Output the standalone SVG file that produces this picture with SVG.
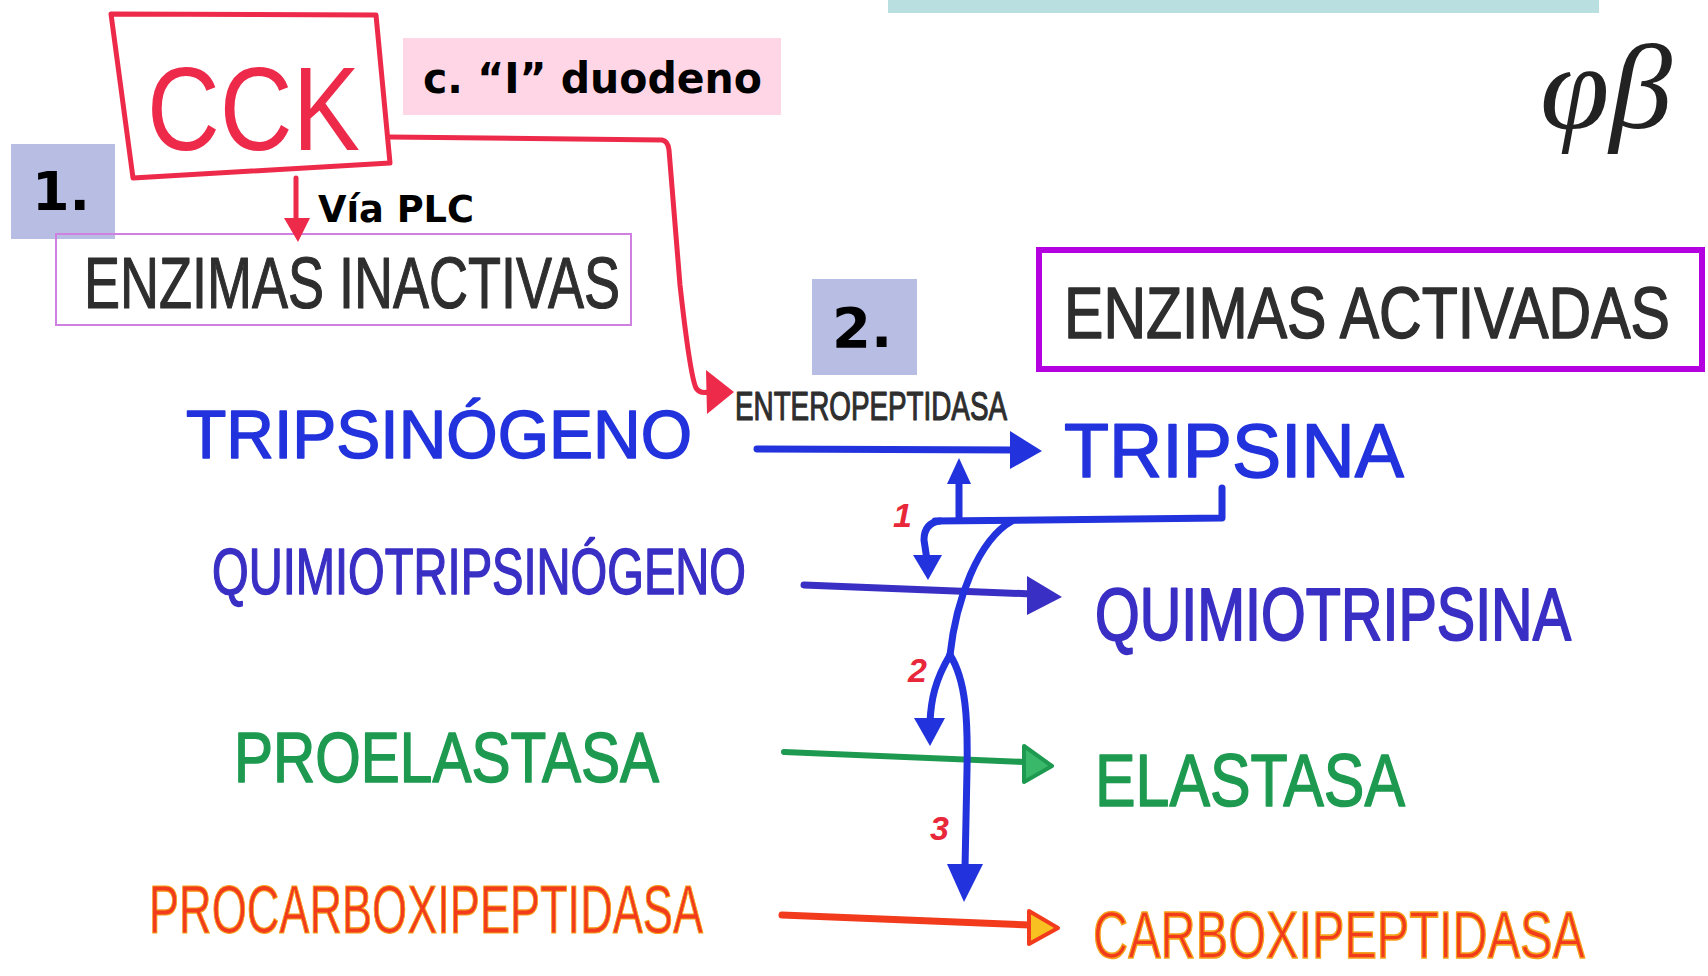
<svg xmlns="http://www.w3.org/2000/svg" width="1708" height="976" viewBox="0 0 1708 976">
  <style>
    .hand { font-family: "Liberation Sans", "DejaVu Sans", sans-serif; stroke-linejoin: round; }
    .label { font-family: "DejaVu Sans", "Liberation Sans", sans-serif; font-weight: bold; fill: #000; }
    .blue { fill: #2233dd; stroke: #2233dd; stroke-width: 1.5; }
    .indigo { fill: #3a2fc4; stroke: #3a2fc4; stroke-width: 1.5; }
    .green { fill: #1e9a50; stroke: #1e9a50; stroke-width: 1.5; }
    .orange { fill: #f23b1c; stroke: #f5a21c; stroke-width: 1.2; }
    .ink { fill: #2e2e2e; stroke: #2e2e2e; stroke-width: 1.2; }
    .wire-red { fill: none; stroke: #ee2a4a; stroke-width: 5; stroke-linecap: round; stroke-linejoin: round; }
    .wire-blue { fill: none; stroke: #2233dd; stroke-width: 7; stroke-linecap: round; stroke-linejoin: round; }
    .num { font-family: "Liberation Sans", sans-serif; font-style: italic; font-weight: bold; fill: #e8283a; font-size: 34px; }
    .tag { fill: #b8bde3; }
  </style>

  <rect width="1708" height="976" fill="#ffffff"/>

  <!-- header strip -->
  <rect x="888" y="0" width="711" height="13" fill="#b9dfe0"/>

  <!-- handwritten symbols top right -->
  <text x="1540" y="128" font-family="Liberation Serif, serif" font-style="italic" font-size="120" fill="#222" textLength="132" lengthAdjust="spacingAndGlyphs">φβ</text>

  <!-- CCK -->
  <g id="cck">
    <path d="M111,14 L376,15 L390,163 L133,178 Z" fill="none" stroke="#ee2a4a" stroke-width="5" stroke-linejoin="round"/>
    <text x="147" y="150" class="hand" font-size="118" fill="#ee2a4a" textLength="213" lengthAdjust="spacingAndGlyphs">CCK</text>
  </g>

  <!-- duodeno note -->
  <g id="duodeno">
    <rect x="403" y="38" width="378" height="77" fill="#ffd6e6"/>
    <text x="423" y="93" class="label" font-size="42" textLength="339" lengthAdjust="spacingAndGlyphs">c. “I” duodeno</text>
  </g>

  <!-- step markers -->
  <g id="step1">
    <rect x="11" y="144" width="104" height="95" class="tag"/>
    <text x="32" y="210" class="label" font-size="54">1.</text>
  </g>
  <g id="step2">
    <rect x="812" y="279" width="105" height="96" class="tag"/>
    <text x="832" y="347" class="label" font-size="56">2.</text>
  </g>

  <!-- via PLC -->
  <text id="via-plc" x="318" y="222" class="label" font-size="38" textLength="156" lengthAdjust="spacingAndGlyphs">Vía PLC</text>

  <!-- headers -->
  <g id="inactivas">
    <rect x="56" y="234" width="575" height="91" fill="none" stroke="#d080e0" stroke-width="2"/>
    <text x="84" y="308" class="hand ink" font-size="72" textLength="536" lengthAdjust="spacingAndGlyphs">ENZIMAS INACTIVAS</text>
  </g>
  <g id="activadas">
    <rect x="1039" y="250" width="663" height="119" fill="none" stroke="#b400e0" stroke-width="6"/>
    <text transform="translate(1064,338) scale(1,1.23)" class="hand ink" font-size="58" textLength="606" lengthAdjust="spacingAndGlyphs">ENZIMAS ACTIVADAS</text>
  </g>

  <!-- zymogens -->
  <g id="tripsinogeno"><text x="186" y="458" class="hand blue" font-size="68" textLength="506" lengthAdjust="spacingAndGlyphs">TRIPSINÓGENO</text></g>
  <g id="quimiotripsinogeno"><text x="212" y="594" class="hand indigo" font-size="64" textLength="534" lengthAdjust="spacingAndGlyphs">QUIMIOTRIPSINÓGENO</text></g>
  <g id="proelastasa"><text x="234" y="782" class="hand green" font-size="70" textLength="425" lengthAdjust="spacingAndGlyphs">PROELASTASA</text></g>
  <g id="procarboxipeptidasa"><text x="149" y="933" class="hand orange" font-size="68" textLength="554" lengthAdjust="spacingAndGlyphs">PROCARBOXIPEPTIDASA</text></g>

  <!-- active enzymes -->
  <g id="tripsina"><text x="1064" y="477" class="hand blue" font-size="76" textLength="340" lengthAdjust="spacingAndGlyphs">TRIPSINA</text></g>
  <g id="quimiotripsina"><text transform="translate(1095,640) scale(1,1.29)" class="hand indigo" font-size="57" textLength="476" lengthAdjust="spacingAndGlyphs">QUIMIOTRIPSINA</text></g>
  <g id="elastasa"><text x="1095" y="806" class="hand green" font-size="74" textLength="310" lengthAdjust="spacingAndGlyphs">ELASTASA</text></g>
  <g id="carboxipeptidasa"><text transform="translate(1093,958) scale(1,1.4)" class="hand orange" font-size="48" textLength="492" lengthAdjust="spacingAndGlyphs">CARBOXIPEPTIDASA</text></g>

  <!-- enzyme label -->
  <text id="enteropeptidasa" x="735" y="420" class="hand ink" font-size="40" stroke-width="0.5" textLength="272" lengthAdjust="spacingAndGlyphs">ENTEROPEPTIDASA</text>

  <!-- connectors -->
  <g id="connectors">
    <!-- CCK to inactive enzymes -->
    <path class="wire-red" d="M296,178 L296,222"/>
    <polygon points="284,218 310,218 298,242" fill="#ee2a4a"/>

    <!-- CCK to enteropeptidasa -->
    <path class="wire-red" d="M390,137 L662,140 Q668,141 669,150 L680,285 Q690,375 696,388 Q700,394 708,392"/>
    <polygon points="706,370 734,392 707,414" fill="#ee2a4a"/>

    <!-- activation arrows -->
    <path class="wire-blue" d="M757,449 L1015,450"/>
    <polygon points="1010,431 1042,451 1010,469" fill="#2233dd"/>

    <path d="M804,585 L1032,594" fill="none" stroke="#3a2fc4" stroke-width="7" stroke-linecap="round"/>
    <polygon points="1027,576 1062,597 1027,615" fill="#3a2fc4"/>

    <path d="M784,752 L1025,762" fill="none" stroke="#1e9a50" stroke-width="6" stroke-linecap="round"/>
    <polygon points="1024,746 1052,766 1024,782" fill="#3ab86a" stroke="#1e9a50" stroke-width="4" stroke-linejoin="round"/>

    <path d="M782,915 L1030,925" fill="none" stroke="#f23b1c" stroke-width="7" stroke-linecap="round"/>
    <polygon points="1029,911 1058,928 1029,944" fill="#f8c020" stroke="#f23b1c" stroke-width="4" stroke-linejoin="round"/>

    <!-- trypsin feedback bracket -->
    <path class="wire-blue" d="M1222,488 L1222,518 L935,521"/>
    <path class="wire-blue" d="M959,519 L959,480"/>
    <polygon points="947,484 971,484 959,458" fill="#2233dd"/>

    <path class="wire-blue" d="M940,521 Q924,523 924,540 L927,560"/>
    <polygon points="913,555 942,555 928,580" fill="#2233dd"/>

    <path class="wire-blue" d="M1012,521 C978,540 956,600 950,655"/>
    <path class="wire-blue" d="M950,655 C935,680 931,700 930,722"/>
    <polygon points="914,718 945,718 930,746" fill="#2233dd"/>
    <path class="wire-blue" d="M950,655 C966,680 968,720 967,770 L965,868"/>
    <polygon points="947,864 983,864 964,902" fill="#2233dd"/>

    <text x="893" y="527" class="num">1</text>
    <text x="908" y="682" class="num">2</text>
    <text x="930" y="840" class="num">3</text>
  </g>
</svg>
